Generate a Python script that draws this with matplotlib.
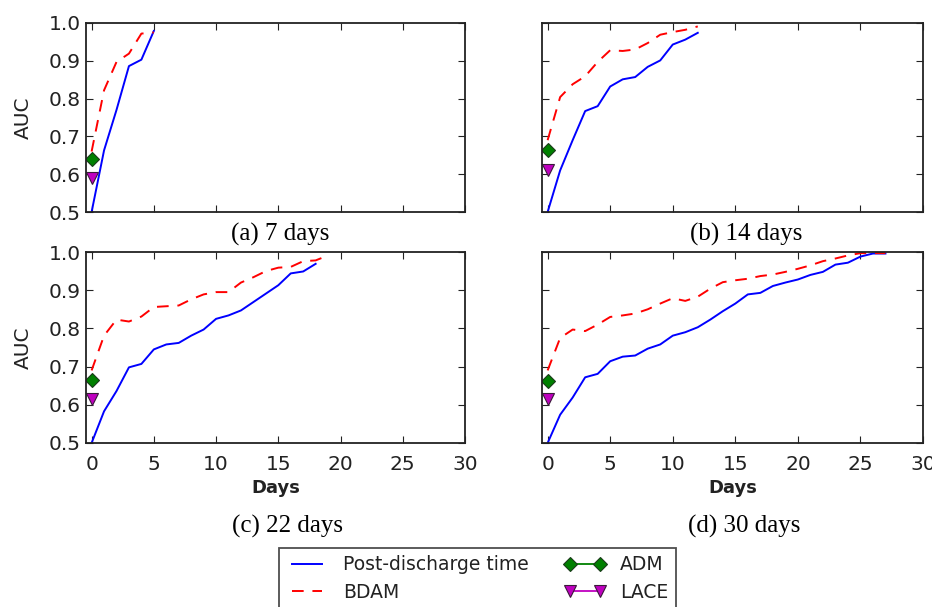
import matplotlib
matplotlib.use("Agg")
import matplotlib.pyplot as plt
from matplotlib.lines import Line2D

# ---------------- data ----------------
days_a = [0, 1, 2, 3, 4, 5]
post_a = [0.50, 0.663, 0.77, 0.886, 0.903, 0.979]
bdam_a = [0.66, 0.822, 0.897, 0.919, 0.972, 0.975]
adm_a, lace_a = 0.64, 0.59

days_b = list(range(13))
post_b = [0.50, 0.61, 0.69, 0.767, 0.78, 0.832, 0.851, 0.857, 0.884, 0.901, 0.943, 0.956, 0.974]
bdam_b = [0.69, 0.804, 0.838, 0.859, 0.897, 0.928, 0.926, 0.93, 0.947, 0.969, 0.976, 0.982, 0.991]
adm_b, lace_b = 0.663, 0.61

days_c_post = list(range(19))
post_c = [0.50, 0.583, 0.636, 0.698, 0.707, 0.745, 0.758, 0.762, 0.781, 0.797, 0.825,
          0.834, 0.847, 0.869, 0.891, 0.913, 0.944, 0.949, 0.969]
days_c_bdam = list(range(20))
bdam_c = [0.69, 0.781, 0.823, 0.818, 0.831, 0.856, 0.858, 0.860, 0.876, 0.889, 0.895,
          0.895, 0.92, 0.934, 0.950, 0.959, 0.961, 0.976, 0.978, 0.991]
adm_c, lace_c = 0.666, 0.614

days_d = list(range(28))
post_d = [0.50, 0.574, 0.619, 0.672, 0.681, 0.714, 0.726, 0.729, 0.747, 0.758, 0.781,
          0.790, 0.803, 0.823, 0.845, 0.865, 0.889, 0.893, 0.911, 0.920, 0.928, 0.940,
          0.948, 0.967, 0.972, 0.988, 0.996, 0.996]
bdam_d = [0.69, 0.775, 0.797, 0.793, 0.810, 0.830, 0.834, 0.839, 0.850, 0.865, 0.879,
          0.872, 0.883, 0.904, 0.921, 0.926, 0.930, 0.937, 0.941, 0.948, 0.956, 0.965,
          0.976, 0.983, 0.991, 0.997, 0.997, 0.997]
adm_d, lace_d = 0.663, 0.615

captions = ["(a) 7 days", "(b) 14 days", "(c) 22 days", "(d) 30 days"]
xticks = [0, 5, 10, 15, 20, 25, 30]
yticks = [0.5, 0.6, 0.7, 0.8, 0.9, 1.0]
ytick_labels = ["0.5", "0.6", "0.7", "0.8", "0.9", "1.0"]
legend_labels = ["Post-discharge time", "BDAM", "ADM", "LACE"]

# ---------------- figure ----------------
W, H = 932, 607
fig = plt.figure(figsize=(W / 100, H / 100), dpi=100)
fig.patch.set_facecolor("white")


def px_axes(left, top, right, bottom):
    return fig.add_axes([left / W, 1 - bottom / H, (right - left) / W, (bottom - top) / H])


boxes = [(86, 23, 465, 212), (542, 23, 923, 212), (86, 252, 465, 443), (542, 252, 923, 443)]
panels = [
    (days_a, post_a, days_a, bdam_a, adm_a, lace_a),
    (days_b, post_b, days_b, bdam_b, adm_b, lace_b),
    (days_c_post, post_c, days_c_bdam, bdam_c, adm_c, lace_c),
    (days_d, post_d, days_d, bdam_d, adm_d, lace_d),
]

dash = (6, 4.5)
for i, (box, pdata) in enumerate(zip(boxes, panels)):
    ax = px_axes(*box)
    dp, vp, db, vb, adm, lace = pdata
    ax.plot(dp, vp, color="b", lw=1.4)
    ax.plot(db, vb, color="r", lw=1.4, linestyle="--", dashes=dash)
    ax.plot([0], [adm], color="g", marker="D", ms=7.5, mec="#1a3a1a", mew=0.8, linestyle="-")
    ax.plot([0], [lace], color="m", marker="v", ms=8, mec="#3a1a3a", mew=0.8, linestyle="-")
    ax.set_xlim(-0.45, 30)
    ax.set_ylim(0.5, 1.0)
    ax.set_xticks(xticks)
    ax.set_yticks(yticks)
    ax.tick_params(direction="in", top=True, right=True, length=5, width=0.8,
                   labelsize=14.5, colors="#222222", pad=4)
    ax.tick_params(axis="x", pad=9)
    for sp in ax.spines.values():
        sp.set_linewidth(1.3)
        sp.set_color("#222222")
    if i % 2 == 0:
        ax.set_yticklabels(ytick_labels)
        ax.set_ylabel("AUC", fontsize=14.5, color="#222222", labelpad=11)
    else:
        ax.set_yticklabels([])
    if i < 2:
        ax.set_xticklabels([])
    else:
        ax.set_xlabel("Days", fontsize=13, fontweight="bold", color="#222222", labelpad=3)

cap_pos = [(280, 234), (746, 234), (287, 526), (744, 526)]
for txt, (cx, cy) in zip(captions, cap_pos):
    fig.text(cx / W, 1 - cy / H, txt, ha="center", va="center",
             fontsize=18, family="Liberation Serif", color="black")

handles = [
    Line2D([], [], color="b", lw=1.4),
    Line2D([], [], color="r", lw=1.4, linestyle="--", dashes=dash),
    Line2D([], [], color="g", marker="D", ms=7.5, mec="#1a3a1a", mew=0.8, lw=1.3),
    Line2D([], [], color="m", marker="v", ms=8, mec="#3a1a3a", mew=0.8, lw=1.3),
]
leg = fig.legend(handles, legend_labels, loc="upper center",
                 bbox_to_anchor=(477.5 / W, 1 - 548 / H), bbox_transform=fig.transFigure,
                 ncol=2, fontsize=13.5, frameon=True, fancybox=False, borderaxespad=0,
                 handlelength=2.2, handletextpad=0.8, columnspacing=1.9,
                 labelspacing=0.45, borderpad=0.4, numpoints=2)
leg.get_frame().set_edgecolor("#222222")
leg.get_frame().set_linewidth(1.3)
for t in leg.get_texts():
    t.set_color("#222222")

fig.savefig("out.png", dpi=100, facecolor="white")
